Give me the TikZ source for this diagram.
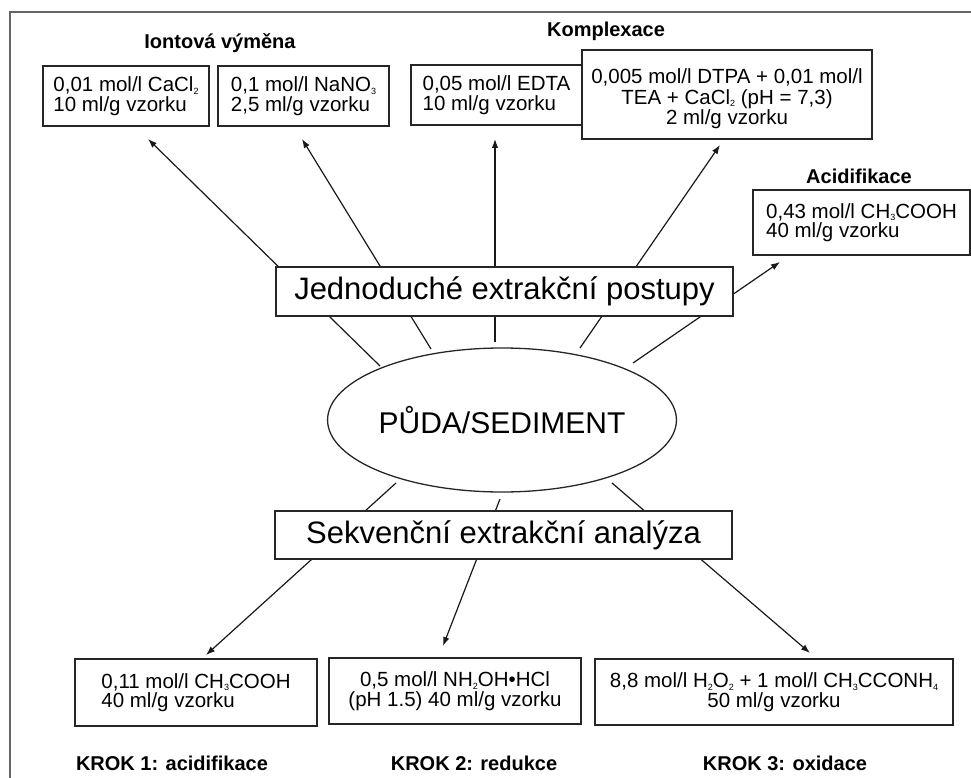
\documentclass[tikz,border=0pt]{standalone}
\usepackage{fontspec}
\setmainfont{Liberation Sans}
\usetikzlibrary{arrows.meta,backgrounds,shapes.geometric}
\newcommand\sbs[1]{\raisebox{-2.5pt}{\fontsize{9}{9}\selectfont #1}}
\begin{document}
\begin{tikzpicture}[x=1pt,y=-1pt,
  box/.style={draw=black!85, line width=1.3pt, fill=white, inner sep=0pt,
    font=\fontsize{20.5}{19.5}\selectfont},
  bigbox/.style={draw=black!85, line width=1.3pt, fill=white, inner sep=0pt,
    font=\fontsize{31}{31}\selectfont},
  title/.style={inner sep=0pt, font=\bfseries\fontsize{20}{20}\selectfont},
  conn/.style={draw=black!90, line width=1.2pt},
  arr/.style={conn, -{Latex[length=9pt,width=6.5pt]}},
  frame/.style={draw=black!60, line width=1.2pt}]
\useasboundingbox (0,0) rectangle (971,778);
% frame
\coordinate (fr0) at (10,12);
\coordinate (fr1) at (971,12);
\coordinate (fr2) at (10,778);
\draw[frame] (fr1) -- (fr0) -- (fr2);

% titles
\node[title] (tIon) at (220,43) {Iontová výměna};
\node[title] (tKom) at (606,31) {Komplexace};
\node[title] (tAci) at (859,176) {Acidifikace};
\node[title] (tK1) at (172,763) {KROK 1: acidifikace};
\node[title] (tK2) at (474,763) {KROK 2: redukce};
\node[title] (tK3) at (785,763) {KROK 3: oxidace};

% top boxes
\node[box, minimum width=166pt, minimum height=60pt, align=left] (A) at (126,96)
  {0,01 mol/l CaCl\sbs{2}\\10 ml/g vzorku};
\node[box, minimum width=171pt, minimum height=60pt, align=left] (B) at (303.5,96)
  {0,1 mol/l NaNO\sbs{3}\\2,5 ml/g vzorku};
\node[box, minimum width=171pt, minimum height=60pt, align=left] (C) at (496.5,95)
  {0,05 mol/l EDTA\\10 ml/g vzorku};
\node[box, minimum width=290pt, minimum height=89pt] (D) at (727,94.5)
  {\raisebox{0pt}[\dimexpr\height+10pt\relax][\depth]{\begin{tabular}{@{}c@{}}0,005 mol/l DTPA + 0,01 mol/l\\TEA + CaCl\sbs{2} (pH = 7,3)\\2 ml/g vzorku\end{tabular}}};
\node[box, minimum width=217pt, minimum height=65pt, align=left] (E) at (861.5,222.5)
  {0,43 mol/l CH\sbs{3}COOH\\40 ml/g vzorku};

% central
\node[bigbox, minimum width=457pt, minimum height=49pt] (J) at (504.5,291.5)
  {Jednoduché extrakční postupy};
\node[draw=black!85, line width=1.3pt, ellipse, inner sep=0pt, minimum width=316pt,
  minimum height=144pt, font=\fontsize{30}{30}\selectfont] (P) at (502,420) {PŮDA/SEDIMENT};
\node[bigbox, minimum width=457pt, minimum height=48pt] (S) at (503.5,535)
  {Sekvenční extrakční analýza};

% bottom boxes
\node[box, minimum width=242pt, minimum height=67pt, align=left] (F1) at (196,692.5)
  {0,11 mol/l CH\sbs{3}COOH\\40 ml/g vzorku};
\node[box, minimum width=252pt, minimum height=66pt, align=center] (F2) at (455,691)
  {0,5 mol/l NH\sbs{2}OH•HCl\\(pH 1.5) 40 ml/g vzorku};
\node[box, minimum width=358pt, minimum height=66pt, align=center] (F3) at (774,692)
  {8,8 mol/l H\sbs{2}O\sbs{2} + 1 mol/l CH\sbs{3}CCONH\sbs{4}\\50 ml/g vzorku};

% free ends of connectors
\coordinate (s1) at (380,366);
\coordinate (s2) at (431,349);
\coordinate (s3) at (495,342);
\coordinate (s4) at (580,348);
\coordinate (s5) at (633,363);
\coordinate (tA) at (148,139);
\coordinate (tB) at (302,139);
\coordinate (tC) at (495,139);
\coordinate (tD) at (720,145);
\coordinate (tE) at (780,262);
\coordinate (b1) at (396,483);
\coordinate (b2) at (500,499);
\coordinate (b3) at (612,483);
\coordinate (t1) at (206,655);
\coordinate (t2) at (443,646);
\coordinate (t3) at (810,653);

\begin{scope}[on background layer]
\draw[arr] (s1) -- (tA);
\draw[arr] (s2) -- (tB);
\draw[arr] (s3) -- (tC);
\draw[arr] (s4) -- (tD);
\draw[arr] (s5) -- (tE);
\draw[arr] (b1) -- (t1);
\draw[arr] (b2) -- (t2);
\draw[arr] (b3) -- (t3);
\end{scope}
\end{tikzpicture}
\end{document}
